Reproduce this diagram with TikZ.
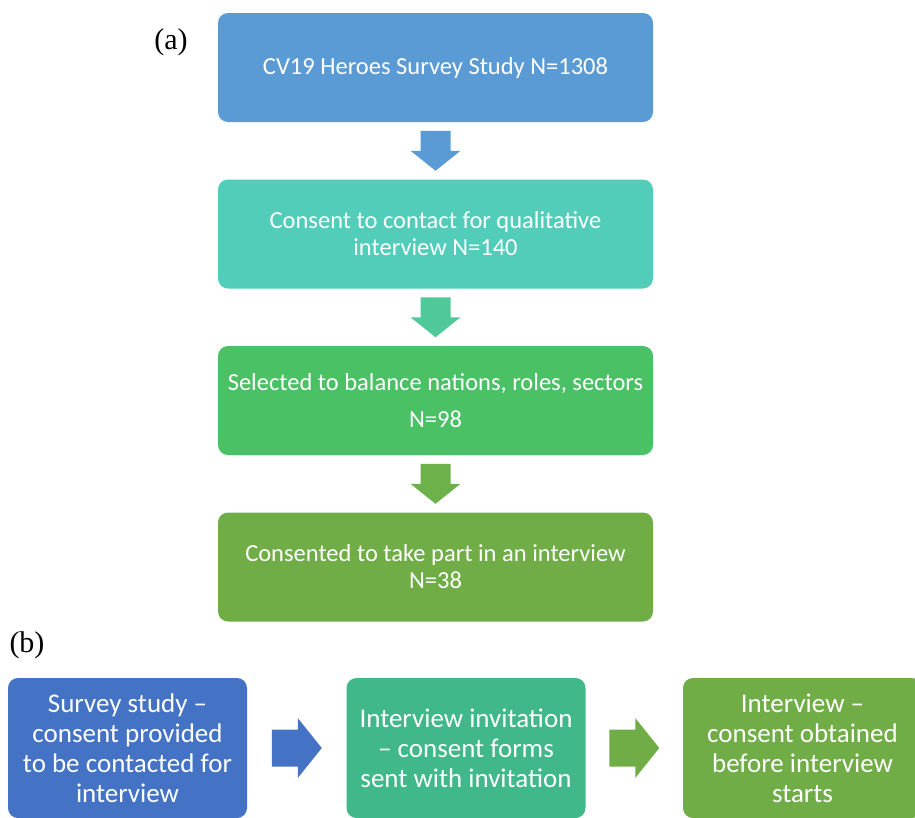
\documentclass[tikz,border=0pt]{standalone}
\usepackage{fontspec}
\setmainfont{Carlito}
\newfontfamily\timesf{Liberation Serif}
\usetikzlibrary{calc}
\definecolor{cA}{HTML}{5B9BD5}
\definecolor{cB}{HTML}{52CDB9}
\definecolor{cC}{HTML}{4BC166}
\definecolor{cD}{HTML}{70AD47}
\definecolor{aB}{HTML}{4FC89A}
\definecolor{aC}{HTML}{6DB14A}
\definecolor{bA}{HTML}{4472C4}
\definecolor{bB}{HTML}{41B88A}
\definecolor{bC}{HTML}{70AD47}
\tikzset{
  topbox/.style={rounded corners=10pt, minimum width=435pt, minimum height=109pt, text=white, align=center, inner sep=0pt, font=\fontsize{24.5}{27}\selectfont},
  botbox/.style={rounded corners=10pt, minimum width=239pt, minimum height=140pt, text=white, align=center, inner sep=0pt, font=\fontsize{27}{30}\selectfont},
  panellabel/.style={font=\timesf\fontsize{30}{30}\selectfont, inner sep=0pt}
}
\begin{document}
\begin{tikzpicture}[x=1pt,y=-1pt]
\path[use as bounding box, clip] (0,0) rectangle (915,817);
\fill[white] (0,0) rectangle (915,817);
% panel (a)
\node[topbox, fill=cA] (t1) at (435.5,67.5) {CV19 Heroes Survey Study N=1308};
\node[topbox, fill=cB] (t2) at (435.5,234) {Consent to contact for qualitative\\interview N=140};
\node[topbox, fill=cC] (t3) at (435.5,400.5) {Selected to balance nations, roles, sectors\\[10pt]N=98};
\node[topbox, fill=cD] (t4) at (435.5,567) {Consented to take part in an interview\\N=38};
\node[panellabel] (la) at (171,42) {(a)};
% vertical block arrows
\coordinate (m1) at ($(t1.south)!0.5!(t2.north)$);
\coordinate (m2) at ($(t2.south)!0.5!(t3.north)$);
\coordinate (m3) at ($(t3.south)!0.5!(t4.north)$);
\foreach \m/\c in {m1/cA, m2/aB, m3/aC}{
  \fill[\c] ($(\m)+(-15,-20)$) -- ($(\m)+(15,-20)$) -- ($(\m)+(15,0)$) -- ($(\m)+(25,0)$) -- ($(\m)+(0,20)$) -- ($(\m)+(-25,0)$) -- ($(\m)+(-15,0)$) -- cycle;
}
% panel (b)
\node[panellabel] (lb) at (27,645) {(b)};
\node[botbox, fill=bA] (b1) at (127.5,748) {Survey study --\\consent provided\\to be contacted for\\interview};
\node[botbox, fill=bB] (b2) at (466,748) {Interview invitation\\-- consent forms\\sent with invitation};
\node[botbox, fill=bC] (b3) at (802.5,748) {Interview --\\consent obtained\\before interview\\starts};
\coordinate (h1) at ($(b1.east)!0.5!(b2.west)$);
\coordinate (h2) at ($(b2.east)!0.5!(b3.west)$);
\foreach \m/\c in {h1/bA, h2/bC}{
  \fill[\c] ($(\m)+(-25,-18.5)$) -- ($(\m)+(1,-18.5)$) -- ($(\m)+(1,-30)$) -- ($(\m)+(25,0)$) -- ($(\m)+(1,30)$) -- ($(\m)+(1,18.5)$) -- ($(\m)+(-25,18.5)$) -- cycle;
}
\end{tikzpicture}
\end{document}
